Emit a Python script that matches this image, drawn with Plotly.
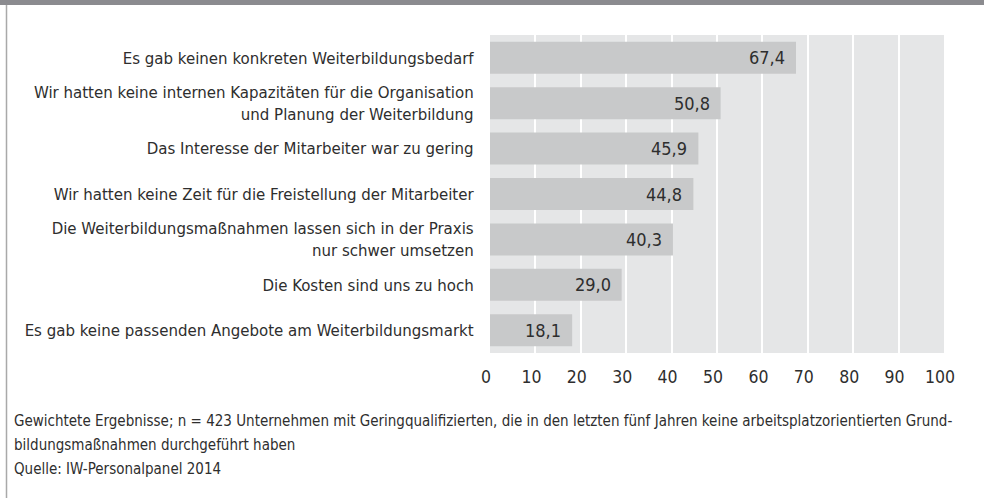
import plotly.graph_objects as go

categories = [
    "Es gab keinen konkreten Weiterbildungsbedarf",
    "Wir hatten keine internen Kapazitäten für die Organisation<br>und Planung der Weiterbildung",
    "Das Interesse der Mitarbeiter war zu gering",
    "Wir hatten keine Zeit für die Freistellung der Mitarbeiter",
    "Die Weiterbildungsmaßnahmen lassen sich in der Praxis<br>nur schwer umsetzen",
    "Die Kosten sind uns zu hoch",
    "Es gab keine passenden Angebote am Weiterbildungsmarkt",
]
values = [67.4, 50.8, 45.9, 44.8, 40.3, 29.0, 18.1]
x_ticks = [0, 10, 20, 30, 40, 50, 60, 70, 80, 90, 100]
footnote_lines = [
    "Gewichtete Ergebnisse; n = 423 Unternehmen mit Geringqualifizierten, die in den letzten fünf Jahren keine arbeitsplatzorientierten Grund-",
    "bildungsmaßnahmen durchgeführt haben",
    "Quelle: IW-Personalpanel 2014",
]

FONT = "DejaVu Sans Condensed, sans-serif"
TXT = "#2e2e2e"
W, H = 984, 498
ML, MR, MT, MB = 490, 40, 35, 145
PW, PH = W - ML - MR, H - MT - MB

fig = go.Figure()
fig.add_trace(go.Bar(
    x=values, y=categories, orientation="h",
    marker=dict(color="#c8c9ca", line=dict(width=0)),
    hoverinfo="skip",
))

for v, c in zip(values, categories):
    fig.add_annotation(
        x=v, y=c, xref="x", yref="y", text=f"{v:.1f}".replace(".", ","),
        showarrow=False, xanchor="right", xshift=-9,
        font=dict(family=FONT, size=18, color=TXT),
    )

def px_x(p):
    return (p - ML) / PW

def px_y(p):
    return 1 - (p - MT) / PH

# top dark band
fig.add_shape(type="rect", xref="paper", yref="paper",
              x0=px_x(-2), x1=px_x(W + 2), y0=px_y(5), y1=px_y(-2),
              fillcolor="#8b8b8f", line=dict(width=0), layer="above")
# left border
fig.add_shape(type="line", xref="paper", yref="paper",
              x0=px_x(6.5), x1=px_x(6.5), y0=px_y(5), y1=px_y(H + 2),
              line=dict(color="#a9a9a9", width=1.5))

ys = [421, 445, 469]
for t, yy in zip(footnote_lines, ys):
    fig.add_annotation(
        x=px_x(12), y=px_y(yy), xref="paper", yref="paper", text=t,
        showarrow=False, xanchor="left", yanchor="middle",
        font=dict(family=FONT, size=15, color=TXT),
    )

fig.update_layout(
    width=W, height=H,
    margin=dict(l=ML, r=MR, t=MT, b=MB),
    paper_bgcolor="white", plot_bgcolor="#e5e6e7",
    showlegend=False, bargap=0.295,
    font=dict(family=FONT, color=TXT),
    xaxis=dict(range=[0, 100], tickvals=x_ticks, showgrid=True,
               gridcolor="white", gridwidth=1.5, zeroline=False,
               ticks="outside", ticklen=8, tickcolor="rgba(0,0,0,0)",
               ticklabelshift=-4,
               tickfont=dict(family=FONT, size=17.5, color=TXT), fixedrange=True),
    yaxis=dict(autorange="reversed", showgrid=False, zeroline=False,
               ticks="outside", ticklen=12, tickcolor="rgba(0,0,0,0)",
               tickfont=dict(family=FONT, size=16.7, color=TXT), fixedrange=True),
)

fig.write_html("out.html", config={"displayModeBar": False},
               post_script="document.body.style.margin='0';document.body.style.overflow='hidden';")
